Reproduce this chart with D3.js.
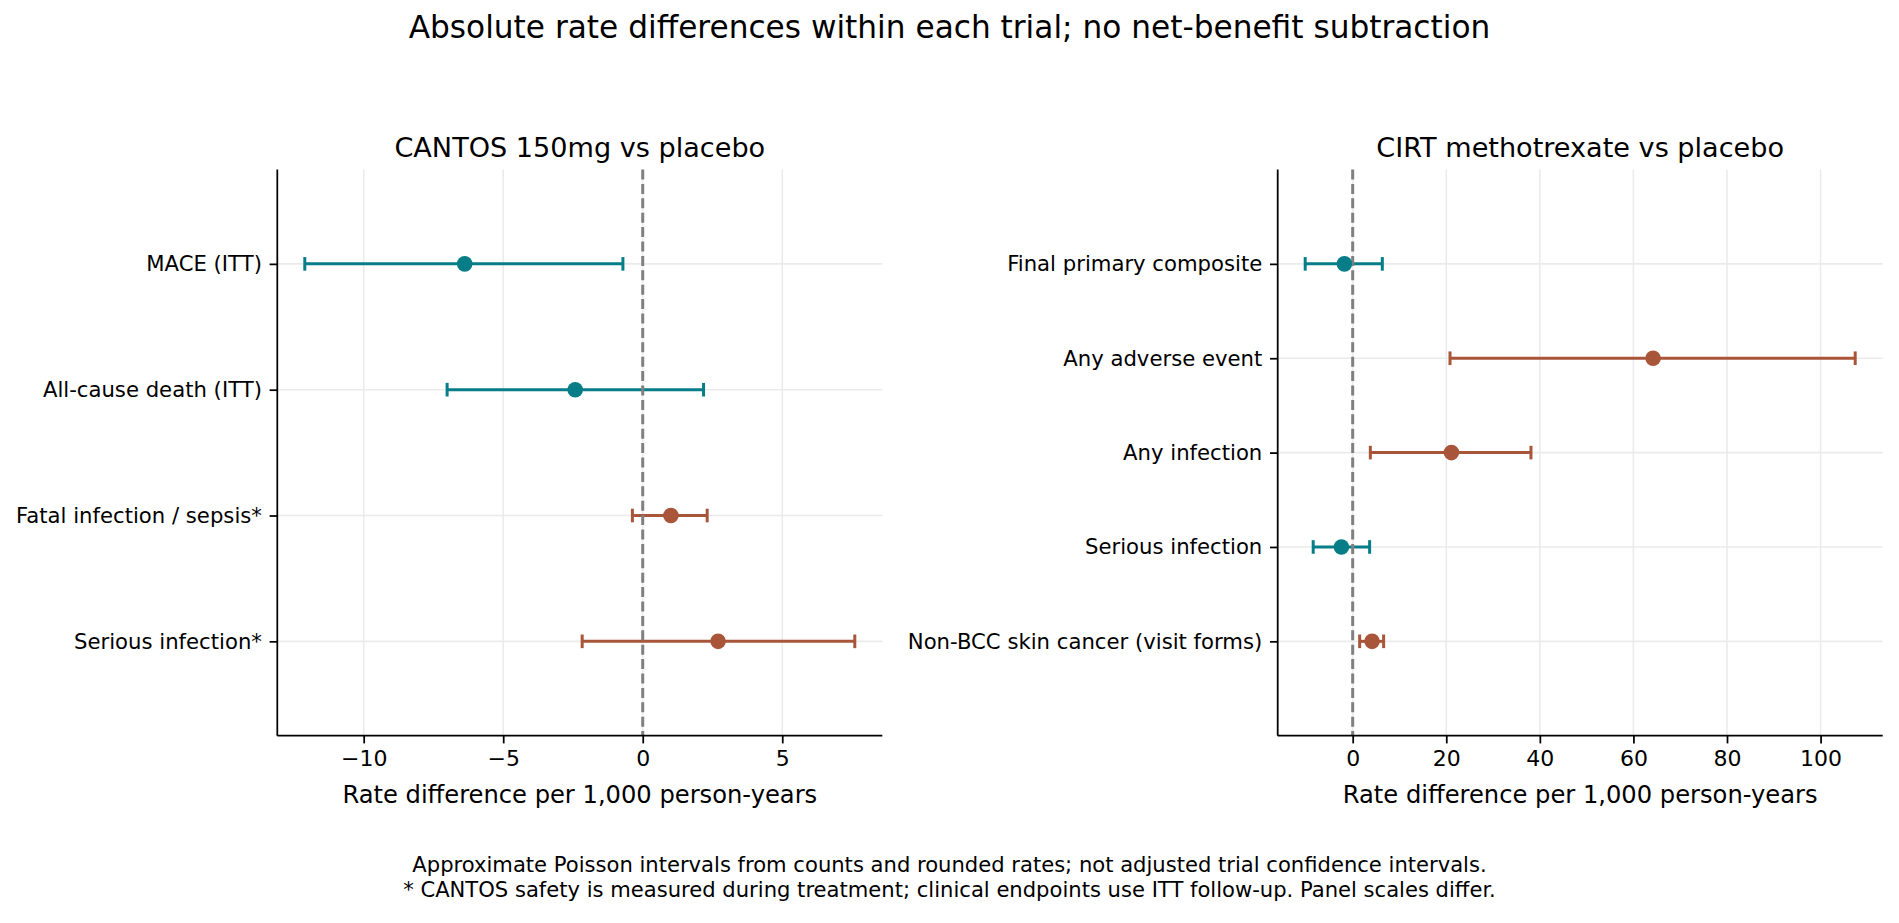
<!DOCTYPE html>
<html>
<head>
<meta charset="utf-8">
<script src="https://cdn.jsdelivr.net/npm/d3@7"></script>
<style>
  html, body { margin: 0; padding: 0; background: #ffffff; }
  svg { display: block; font-family: "DejaVu Sans", sans-serif; }
</style>
</head>
<body>
<svg id="chart" width="1899" height="923"></svg>
<script>
// ---------- data ----------
const suptitleText = "Absolute rate differences within each trial; no net-benefit subtraction";
const footnoteLines = [
  "Approximate Poisson intervals from counts and rounded rates; not adjusted trial confidence intervals.",
  "* CANTOS safety is measured during treatment; clinical endpoints use ITT follow-up. Panel scales differ."
];
const xLabelText = "Rate difference per 1,000 person-years";

const cantosTitle = "CANTOS 150mg vs placebo";
const cantosLabels = ["MACE (ITT)", "All-cause death (ITT)", "Fatal infection / sepsis*", "Serious infection*"];
const cantosEst  = [-6.38, -2.42, 1.01, 2.70];
const cantosLow  = [-12.11, -7.01, -0.37, -2.17];
const cantosHigh = [-0.71, 2.18, 2.31, 7.60];
const cantosTicks = [-10, -5, 0, 5];

const cirtTitle = "CIRT methotrexate vs placebo";
const cirtLabels = ["Final primary composite", "Any adverse event", "Any infection", "Serious infection", "Non-BCC skin cancer (visit forms)"];
const cirtEst  = [-1.77, 64.2, 21.1, -2.41, 4.14];
const cirtLow  = [-10.15, 20.8, 3.77, -8.44, 1.49];
const cirtHigh = [6.33, 107.4, 38.1, 3.62, 6.61];
const cirtTicks = [0, 20, 40, 60, 80, 100];

// ---------- style ----------
const TEAL = "#067d87";
const RUST = "#a8553a";
const W = 1899, H = 923;
const svg = d3.select("#chart");

svg.append("text")
  .attr("x", W / 2).attr("y", 38)
  .attr("text-anchor", "middle")
  .attr("font-size", 31.2)
  .attr("fill", "#000")
  .text(suptitleText);

footnoteLines.forEach((t, i) => {
  svg.append("text")
    .attr("x", W / 2).attr("y", 872 + i * 24.6)
    .attr("text-anchor", "middle")
    .attr("font-size", 21.1)
    .attr("fill", "#000")
    .text(t);
});

function panel(opts) {
  const { left, right, top, bottom, title, labels, est, low, high, ticks, ypad } = opts;
  const g = svg.append("g");
  const lo = d3.min(low), hi = d3.max(high);
  const m = (hi - lo) * 0.05;
  const x = d3.scaleLinear().domain([lo - m, hi + m]).range([left, right]);
  const y = d3.scaleLinear().domain([-ypad, labels.length - 1 + ypad]).range([top, bottom]);

  // grid
  g.append("g").selectAll("line.vg").data(ticks).join("line")
    .attr("x1", d => x(d)).attr("x2", d => x(d))
    .attr("y1", top).attr("y2", bottom)
    .attr("stroke", "#ebebeb").attr("stroke-width", 1.6);
  g.append("g").selectAll("line.hg").data(labels.map((_, i) => i)).join("line")
    .attr("x1", left).attr("x2", right)
    .attr("y1", d => y(d)).attr("y2", d => y(d))
    .attr("stroke", "#ebebeb").attr("stroke-width", 1.6);

  const idx = labels.map((_, i) => i);
  const col = i => est[i] < 0 ? TEAL : RUST;

  // error bars
  const eb = g.append("g");
  eb.selectAll("line.bar").data(idx).join("line")
    .attr("x1", i => x(low[i])).attr("x2", i => x(high[i]))
    .attr("y1", i => y(i)).attr("y2", i => y(i))
    .attr("stroke", col).attr("stroke-width", 3.0);
  const caps = [];
  idx.forEach(i => { caps.push({ i, v: low[i] }); caps.push({ i, v: high[i] }); });
  eb.selectAll("line.cap").data(caps).join("line")
    .attr("x1", d => x(d.v)).attr("x2", d => x(d.v))
    .attr("y1", d => y(d.i) - 6.8).attr("y2", d => y(d.i) + 6.8)
    .attr("stroke", d => col(d.i)).attr("stroke-width", 3.0);

  // zero reference
  g.append("line")
    .attr("x1", x(0)).attr("x2", x(0))
    .attr("y1", top).attr("y2", bottom)
    .attr("stroke", "#808080").attr("stroke-width", 3.0)
    .attr("stroke-dasharray", "10,4.4");

  // points
  g.append("g").selectAll("circle").data(idx).join("circle")
    .attr("cx", i => x(est[i])).attr("cy", i => y(i))
    .attr("r", 7.8).attr("fill", col);

  // axes
  const xAxis = d3.axisBottom(x).tickValues(ticks).tickSizeOuter(0).tickSize(7.7).tickPadding(7);
  const xg = g.append("g").attr("transform", `translate(0,${bottom})`).call(xAxis);
  xg.select(".domain").attr("d", `M${left},0H${right}`).attr("stroke", "#000").attr("stroke-width", 1.76);
  xg.selectAll(".tick line").attr("stroke", "#000").attr("stroke-width", 1.76);
  xg.selectAll(".tick text").attr("font-size", 22).attr("fill", "#000")
    .attr("font-family", "DejaVu Sans").attr("dy", "0.71em");

  const yAxis = d3.axisLeft(y).tickValues(idx).tickFormat(i => labels[i]).tickSizeOuter(0).tickSize(7.7).tickPadding(7.7);
  const yg = g.append("g").attr("transform", `translate(${left},0)`).call(yAxis);
  yg.select(".domain").attr("d", `M0,${top}V${bottom}`).attr("stroke", "#000").attr("stroke-width", 1.76);
  yg.selectAll(".tick line").attr("stroke", "#000").attr("stroke-width", 1.76);
  yg.selectAll(".tick text").attr("font-size", 21.2).attr("fill", "#000")
    .attr("font-family", "DejaVu Sans");

  // titles
  g.append("text")
    .attr("x", (left + right) / 2).attr("y", top - 12.5)
    .attr("text-anchor", "middle").attr("font-size", 27.1).attr("fill", "#000")
    .text(title);
  g.append("text")
    .attr("x", (left + right) / 2).attr("y", 803)
    .attr("text-anchor", "middle").attr("font-size", 24.2).attr("fill", "#000")
    .text(xLabelText);
}

panel({ left: 277.3, right: 882.3, top: 169.5, bottom: 735.7, title: cantosTitle,
        labels: cantosLabels, est: cantosEst, low: cantosLow, high: cantosHigh, ticks: cantosTicks, ypad: 0.75 });
panel({ left: 1277.7, right: 1882.7, top: 169.5, bottom: 735.7, title: cirtTitle,
        labels: cirtLabels, est: cirtEst, low: cirtLow, high: cirtHigh, ticks: cirtTicks, ypad: 1.0 });
</script>
</body>
</html>
